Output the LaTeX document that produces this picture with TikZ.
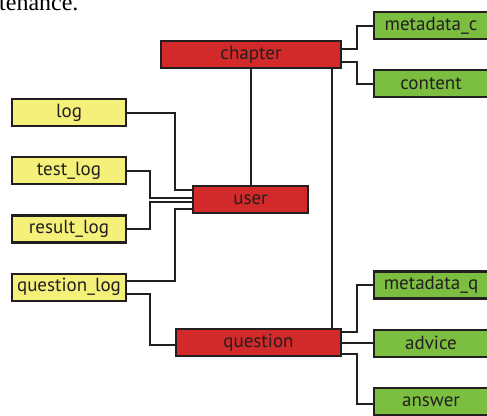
\documentclass[tikz,border=0pt]{standalone}
\usepackage{fontspec}
\setmainfont{Liberation Serif}
\newfontfamily\boxfont{PT Sans}
\definecolor{tblred}{RGB}{210,42,42}
\definecolor{tblyellow}{RGB}{244,240,122}
\definecolor{tblgreen}{RGB}{124,190,64}
\definecolor{tblline}{RGB}{35,31,32}
\usetikzlibrary{positioning}

\begin{document}
\begin{tikzpicture}[x=1pt, y=-1pt,
  font=\boxfont\fontsize{19}{22}\selectfont, node distance=29pt,
  b/.style={rectangle, draw=tblline, line width=2.2pt, inner sep=0pt, text=tblline,
            minimum height=27pt, minimum width=114pt},
  yb/.style={b, fill=tblyellow}, gb/.style={b, fill=tblgreen}, rb/.style={b, fill=tblred},
  wire/.style={draw=tblline, line width=2pt}]
\useasboundingbox (0,0) rectangle (487,415);
\node[font=\rmfamily\fontsize{24}{28}\selectfont, anchor=base west, inner sep=0pt] (frag) at (-1,10) {tenance.};
% tables
\node[rb, minimum width=180pt] (ch) at (251,54.5) {chapter};
\node[rb, minimum width=115pt] (usr) at (250.5,199.5) {user};
\node[rb, minimum width=165pt] (qu) at (258.5,342.5) {question};
\node[yb] (log) at (69,112.5) {log};
\node[yb, below=of log] (tlog) {test\_log};
\node[yb, below=of tlog] (rlog) {result\_log};
\node[yb, below=of rlog] (qlog) {question\_log};
\node[gb] (mdc) at (431,25.5) {metadata\_c};
\node[gb, below=of mdc] (cnt) {content};
\node[gb] (mdq) at (431,285) {metadata\_q};
\node[gb, below=of mdq] (adv) {advice};
\node[gb, below=of adv] (ans) {answer};
% links
\draw[wire] ([yshift=5.5pt]ch.east) -- ++(15,0) |- (mdc.west);
\draw[wire] ([yshift=-7.5pt]ch.east) -- ++(15,0) |- (cnt.west);
\draw[wire] (usr.north) -- (usr.north |- ch.south);
\draw[wire] ([xshift=-10pt]ch.south east) -- ([xshift=-10pt]qu.north east);
\draw[wire] (log.east) -- ++(48,0) |- ([yshift=9.5pt]usr.west);
\draw[wire] (tlog.east) -- ++(23,0) |- ([yshift=2pt]usr.west);
\draw[wire] (rlog.east) -- ++(23,0) |- ([yshift=-2.5pt]usr.west);
\draw[wire] ([yshift=6.5pt]qlog.east) -- ++(48,0) |- ([yshift=-9pt]usr.west);
\draw[wire] ([yshift=-6.5pt]qlog.east) -- ++(23,0) |- ([yshift=-2.5pt]qu.west);
\draw[wire] ([yshift=10.5pt]qu.east) -- ++(15,0) |- (mdq.west);
\draw[wire] (qu.east |- adv.west) -- (adv.west);
\draw[wire] ([yshift=-11.5pt]qu.east) -- ++(15,0) |- ([yshift=-2.5pt]ans.west);
\end{tikzpicture}
\end{document}
